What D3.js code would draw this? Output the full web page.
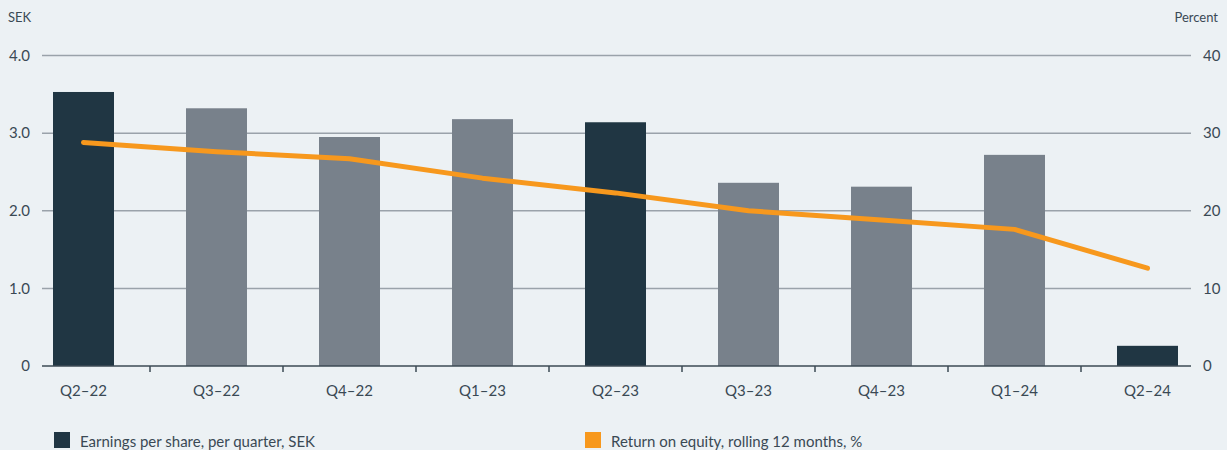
<!DOCTYPE html>
<html><head><meta charset="utf-8">
<script src="https://cdn.jsdelivr.net/npm/d3@7"></script>
<style>
html,body{margin:0;padding:0;background:#ecf1f4;}
svg{display:block;font-family:Lato,"Noto Sans",sans-serif;}
</style></head>
<body>
<svg id="c" width="1227" height="450"></svg>
<script>
const categories = ["Q2–22","Q3–22","Q4–22","Q1–23","Q2–23","Q3–23","Q4–23","Q1–24","Q2–24"];
const eps = [3.53,3.32,2.95,3.18,3.14,2.36,2.31,2.72,0.26];
const roe = [28.8,27.6,26.7,24.2,22.3,20.0,18.8,17.6,12.6];
const leftTicks = [0,1,2,3,4];
const leftTickLabels = ["0","1.0","2.0","3.0","4.0"];
const rightTicks = [0,10,20,30,40];
const highlighted = ["Q2–22","Q2–23","Q2–24"];
const legendLabels = ["Earnings per share, per quarter, SEK","Return on equity, rolling 12 months, %"];

(function(){
const W=1227,H=450;
const plotL=42, plotR=1191, plotTop=55.5, plotBottom=366;
const svg=d3.select("#c");
svg.append("rect").attr("width",W).attr("height",H).attr("fill","#ecf1f4");

const x=d3.scalePoint().domain(categories).range([83.5,1147.5]);
const step=x.step();
const barW=61;
const yL=d3.scaleLinear().domain([0,4]).range([plotBottom,plotTop]);
const yR=d3.scaleLinear().domain([0,40]).range([plotBottom,plotTop]);
const textCol="#3a4954";

svg.append("g").selectAll("line").data(leftTicks.filter(d=>d>0)).join("line")
  .attr("x1",plotL).attr("x2",plotR).attr("y1",d=>yL(d)).attr("y2",d=>yL(d))
  .attr("stroke","#9aa2aa").attr("stroke-width",1.5);

svg.append("g").selectAll("text").data(leftTicks).join("text")
  .attr("x",30).attr("y",d=>yL(d)).attr("dy","0.35em").attr("text-anchor","end")
  .attr("font-size",15).attr("fill",textCol).text((d,i)=>leftTickLabels[i]);
svg.append("g").selectAll("text").data(rightTicks).join("text")
  .attr("x",1203).attr("y",d=>yR(d)).attr("dy","0.35em").attr("text-anchor","start")
  .attr("font-size",15).attr("fill",textCol).text(d=>d);

svg.append("text").attr("x",8).attr("y",22).attr("font-size",13).attr("fill",textCol).text("SEK");
svg.append("text").attr("x",1218).attr("y",22).attr("text-anchor","end").attr("font-size",13).attr("fill",textCol).text("Percent");

svg.append("g").selectAll("rect").data(categories).join("rect")
  .attr("x",d=>x(d)-barW/2).attr("width",barW)
  .attr("y",(d,i)=>yL(eps[i])).attr("height",(d,i)=>plotBottom-yL(eps[i]))
  .attr("fill",d=>highlighted.includes(d)?"#203643":"#78818b");

svg.append("line").attr("x1",plotL).attr("x2",plotR).attr("y1",plotBottom).attr("y2",plotBottom)
  .attr("stroke","#3d4a55").attr("stroke-width",1.5);
svg.append("g").selectAll("line").data(categories.slice(1)).join("line")
  .attr("x1",d=>x(d)-step/2).attr("x2",d=>x(d)-step/2).attr("y1",plotBottom).attr("y2",plotBottom+6)
  .attr("stroke","#3d4a55").attr("stroke-width",1.5);
svg.append("g").selectAll("text").data(categories).join("text")
  .attr("x",d=>x(d)).attr("y",391).attr("dy","0.35em").attr("text-anchor","middle")
  .attr("font-size",15).attr("fill",textCol).text(d=>d);

const line=d3.line().x((d,i)=>x(categories[i])).y(d=>yR(d));
svg.append("path").datum(roe).attr("d",line).attr("fill","none")
  .attr("stroke","#f7981d").attr("stroke-width",5).attr("stroke-linecap","round").attr("stroke-linejoin","round");

const lg=[{x:54,c:"#203643"},{x:585,c:"#f7981d"}];
lg.forEach((l,i)=>{
  svg.append("rect").attr("x",l.x).attr("y",432).attr("width",16).attr("height",16).attr("fill",l.c);
  svg.append("text").attr("x",l.x+26).attr("y",447).attr("font-size",15).attr("fill",textCol).text(legendLabels[i]);
});
})();
</script>
</body></html>
